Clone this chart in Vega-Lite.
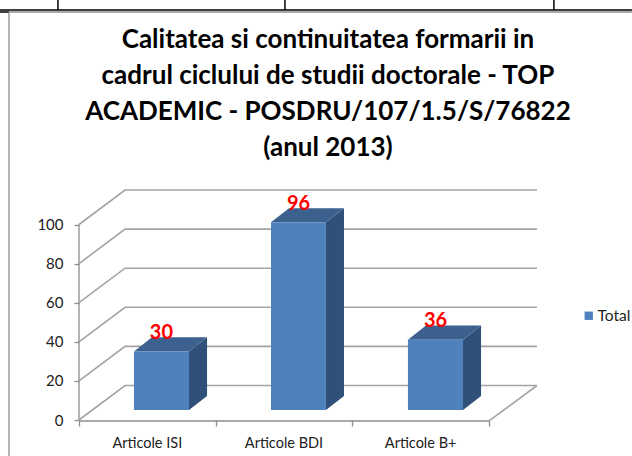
{
  "$schema": "https://vega.github.io/schema/vega-lite/v6.json",
  "width": 460,
  "height": 231,
  "autosize": "none",
  "padding": {"left": 79, "top": 189, "right": 93, "bottom": 36},
  "background": "white",
  "view": {"stroke": null},
  "config": {"font": "Lato"},
  "title": {
    "text": ["Calitatea si continuitatea formarii in", "cadrul ciclului de studii doctorale - TOP", "ACADEMIC - POSDRU/107/1.5/S/76822", "(anul 2013)"],
    "font": "Lato",
    "fontSize": 26,
    "fontWeight": "bold",
    "color": "#000000",
    "anchor": "middle",
    "dx": 19,
    "offset": -162,
    "lineHeight": 36
  },
  "encoding": {
    "x": {
      "field": "x",
      "type": "quantitative",
      "scale": {"domain": [0, 3.366], "nice": false, "zero": false},
      "axis": {"title": null, "values": [0, 1, 2, 3], "labels": false, "domain": false, "grid": false, "tickColor": "#8c8c8c", "tickSize": 6, "tickWidth": 1.3}
    },
    "y": {
      "field": "y",
      "type": "quantitative",
      "scale": {"domain": [0, 118.16], "nice": false, "zero": false},
      "axis": {"title": null, "values": [0, 20, 40, 60, 80, 100], "domain": false, "grid": false, "tickColor": "#8c8c8c", "tickSize": 5, "tickWidth": 1.3, "labelFont": "Lato", "labelFontSize": 15, "labelColor": "#222222", "labelPadding": 11}
    }
  },
  "layer": [
    {
      "data": {"values": [
        {"x": -0.578, "x2": 4.046, "y": 209.7, "y2": 209.7},
        {"x": -0.578, "x2": -0.512, "y": 208.7, "y2": 208.7},
        {"x": -0.154, "x2": -0.154, "y": 214.8, "y2": 209.7},
        {"x": 1.507, "x2": 1.507, "y": 214.8, "y2": 209.7},
        {"x": 3.475, "x2": 3.475, "y": 214.8, "y2": 209.7}
      ]},
      "mark": {"type": "rule", "color": "#000000", "strokeWidth": 1.5, "clip": false},
      "encoding": {"x2": {"field": "x2"}, "y2": {"field": "y2"}}
    },
    {
      "data": {"values": [
        {"x": -0.512, "x2": 4.046, "y": 208.7, "y2": 208.7},
        {"x": -0.512, "x2": -0.512, "y": 208.7, "y2": -18.4},
        {"x": 0, "x2": 0, "y": 0, "y2": 100},
        {"x": 0, "x2": 3, "y": -0.5, "y2": -0.5}
      ]},
      "mark": {"type": "rule", "color": "#8c8c8c", "strokeWidth": 1.3},
      "encoding": {"x2": {"field": "x2"}, "y2": {"field": "y2"}}
    },
    {
      "data": {"values": [
        {"line": 0, "x": 0, "y": 0}, {"line": 0, "x": 0.337, "y": 17.65}, {"line": 0, "x": 3.351, "y": 17.65},
        {"line": 20, "x": 0, "y": 20}, {"line": 20, "x": 0.337, "y": 37.65}, {"line": 20, "x": 3.351, "y": 37.65},
        {"line": 40, "x": 0, "y": 40}, {"line": 40, "x": 0.337, "y": 57.65}, {"line": 40, "x": 3.351, "y": 57.65},
        {"line": 60, "x": 0, "y": 60}, {"line": 60, "x": 0.337, "y": 77.65}, {"line": 60, "x": 3.351, "y": 77.65},
        {"line": 80, "x": 0, "y": 80}, {"line": 80, "x": 0.337, "y": 97.65}, {"line": 80, "x": 3.351, "y": 97.65},
        {"line": 100, "x": 0, "y": 100}, {"line": 100, "x": 0.337, "y": 117.65}, {"line": 100, "x": 3.351, "y": 117.65},
        {"line": -1, "x": 3, "y": -0.5}, {"line": -1, "x": 3.351, "y": 17.65}
      ]},
      "mark": {"type": "line", "color": "#a3a3a3", "strokeWidth": 1.6, "clip": false},
      "encoding": {"detail": {"field": "line", "type": "nominal"}}
    },
    {
      "data": {"values": [
        {"cat": "Articole ISI", "face": "side", "x": 0.805, "y": 35.1, "y2": 5.1},
        {"cat": "Articole ISI", "face": "side", "x": 0.937, "y": 42.3, "y2": 12.3},
        {"cat": "Articole ISI", "face": "top", "x": 0.402, "y": 35.1, "y2": 35.1},
        {"cat": "Articole ISI", "face": "top", "x": 0.534, "y": 42.3, "y2": 35.1},
        {"cat": "Articole ISI", "face": "top", "x": 0.805, "y": 42.3, "y2": 35.1},
        {"cat": "Articole ISI", "face": "top", "x": 0.937, "y": 42.3, "y2": 42.3},
        {"cat": "Articole ISI", "face": "Total", "x": 0.402, "y": 35.1, "y2": 5.1},
        {"cat": "Articole ISI", "face": "Total", "x": 0.805, "y": 35.1, "y2": 5.1},
        {"cat": "Articole BDI", "face": "side", "x": 1.807, "y": 101.1, "y2": 5.1},
        {"cat": "Articole BDI", "face": "side", "x": 1.939, "y": 108.3, "y2": 12.3},
        {"cat": "Articole BDI", "face": "top", "x": 1.405, "y": 101.1, "y2": 101.1},
        {"cat": "Articole BDI", "face": "top", "x": 1.537, "y": 108.3, "y2": 101.1},
        {"cat": "Articole BDI", "face": "top", "x": 1.807, "y": 108.3, "y2": 101.1},
        {"cat": "Articole BDI", "face": "top", "x": 1.939, "y": 108.3, "y2": 108.3},
        {"cat": "Articole BDI", "face": "Total", "x": 1.405, "y": 101.1, "y2": 5.1},
        {"cat": "Articole BDI", "face": "Total", "x": 1.807, "y": 101.1, "y2": 5.1},
        {"cat": "Articole B+", "face": "side", "x": 2.81, "y": 41.1, "y2": 5.1},
        {"cat": "Articole B+", "face": "side", "x": 2.942, "y": 48.3, "y2": 12.3},
        {"cat": "Articole B+", "face": "top", "x": 2.407, "y": 41.1, "y2": 41.1},
        {"cat": "Articole B+", "face": "top", "x": 2.539, "y": 48.3, "y2": 41.1},
        {"cat": "Articole B+", "face": "top", "x": 2.81, "y": 48.3, "y2": 41.1},
        {"cat": "Articole B+", "face": "top", "x": 2.942, "y": 48.3, "y2": 48.3},
        {"cat": "Articole B+", "face": "Total", "x": 2.407, "y": 41.1, "y2": 5.1},
        {"cat": "Articole B+", "face": "Total", "x": 2.81, "y": 41.1, "y2": 5.1}
      ]},
      "mark": {"type": "area", "clip": false, "opacity": 1},
      "encoding": {
        "y2": {"field": "y2"},
        "detail": {"field": "cat", "type": "nominal"},
        "color": {
          "field": "face",
          "type": "nominal",
          "scale": {"domain": ["Total", "top", "side"], "range": ["#4f81bd", "#3c618f", "#2f5079"]},
          "legend": {
            "values": ["Total"],
            "title": null,
            "orient": "none",
            "legendX": 502,
            "legendY": 119,
            "symbolType": "square",
            "symbolSize": 70,
            "symbolStrokeWidth": 0,
            "labelFont": "Lato",
            "labelFontSize": 15.5,
            "labelColor": "#222222",
            "labelOffset": 1
          }
        }
      }
    },
    {
      "data": {"values": [
        {"label": "30", "x": 0.603, "y": 44.6},
        {"label": "96", "x": 1.606, "y": 110.6},
        {"label": "36", "x": 2.609, "y": 50.7}
      ]},
      "mark": {"type": "text", "font": "Lato", "fontSize": 20, "fontWeight": "bold", "color": "#ff0000", "baseline": "middle", "clip": false},
      "encoding": {"text": {"field": "label"}}
    },
    {
      "data": {"values": [
        {"label": "Articole ISI", "x": 0.5, "y": -12.5},
        {"label": "Articole BDI", "x": 1.5, "y": -12.5},
        {"label": "Articole B+", "x": 2.5, "y": -12.5}
      ]},
      "mark": {"type": "text", "font": "Lato", "fontSize": 14.5, "color": "#222222", "baseline": "middle", "clip": false},
      "encoding": {"text": {"field": "label"}}
    }
  ]
}
